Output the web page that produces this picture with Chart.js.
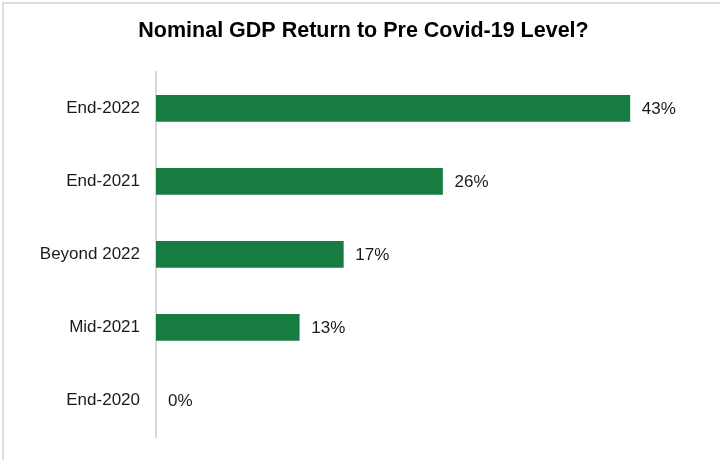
<!DOCTYPE html>
<html>
<head>
<meta charset="utf-8">
<script src="https://cdn.jsdelivr.net/npm/chart.js@4"></script>
<style>
    html, body { margin: 0; padding: 0; background: #fff; }
    .frame {
        position: absolute; left: 2px; top: 2px; right: 0; bottom: 0;
        border-top: 2px solid #dcdcdc; border-left: 2px solid #dcdcdc;
    }
    .wrap { position: absolute; left: 0; top: 0; width: 720px; height: 460px; }
</style>
</head>
<body>
<div class="frame"></div>
<div class="wrap"><canvas id="gdpChart" width="720" height="460"></canvas></div>
<script>
// ── Data ────────────────────────────────────────────────
const chartTitle = 'Nominal GDP Return to Pre Covid-19 Level?';
const categories = ['End-2022', 'End-2021', 'Beyond 2022', 'Mid-2021', 'End-2020'];
const shares = [43, 26, 17, 13, 0];

const FONT = '"Liberation Sans", Arial, sans-serif';
const BAR_GREEN = '#167c41';

// value labels to the right of each bar
const valueLabels = {
    id: 'valueLabels',
    afterDatasetsDraw(chart) {
        const { ctx } = chart;
        const meta = chart.getDatasetMeta(0);
        ctx.save();
        ctx.font = `17px ${FONT}`;
        ctx.fillStyle = '#1a1a1a';
        ctx.textAlign = 'left';
        ctx.textBaseline = 'middle';
        meta.data.forEach((bar, i) => {
            ctx.fillText(`${shares[i]}%`, bar.x + 12, bar.y + 1);
        });
        ctx.restore();
    }
};

new Chart(document.getElementById('gdpChart'), {
    type: 'bar',
    data: {
        labels: categories,
        datasets: [{
            data: shares,
            // zero-width bars leave a hairline, so skip painting them
            backgroundColor: shares.map(v => v > 0 ? BAR_GREEN : 'rgba(0,0,0,0)'),
            borderWidth: 0,
            barThickness: 26
        }]
    },
    options: {
        indexAxis: 'y',
        responsive: false,
        animation: false,
        layout: { padding: { left: 20, right: 13, top: 0, bottom: 23 } },
        plugins: {
            legend: { display: false },
            tooltip: { enabled: false },
            title: {
                display: true,
                text: chartTitle,
                color: '#000',
                font: { family: FONT, size: 21.5, weight: 'bold' },
                padding: { top: 18, bottom: 28 }
            }
        },
        scales: {
            x: {
                min: 0,
                max: 50,
                display: false
            },
            y: {
                grid: { display: false, drawTicks: false },
                border: { display: true, color: '#d9d9d9', width: 2 },
                ticks: {
                    color: '#1a1a1a',
                    padding: 16,
                    font: { family: FONT, size: 17 }
                },
                afterFit(scale) {
                    scale.width = 136;
                    // labels sit mid-band, no extra vertical room needed
                    scale.paddingTop = 0;
                    scale.paddingBottom = 0;
                }
            }
        }
    },
    plugins: [valueLabels]
});
</script>
</body>
</html>
